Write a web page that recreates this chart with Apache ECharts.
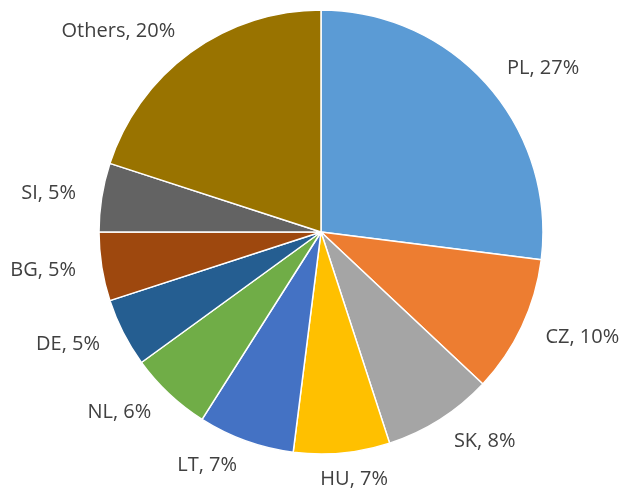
<!DOCTYPE html>
<html>
<head>
<meta charset="utf-8">
<script src="https://cdn.jsdelivr.net/npm/echarts@6/dist/echarts.min.js"></script>
<style>
  html, body { margin: 0; padding: 0; background: #fff; }
  #main { width: 619px; height: 495px; }
</style>
</head>
<body>
<div id="main"></div>
<script>
// country shares, %
var countries = ['PL', 'CZ', 'SK', 'HU', 'LT', 'NL', 'DE', 'BG', 'SI', 'Others'];
var shares = [27, 10, 8, 7, 7, 6, 5, 5, 5, 20];
var colors = ['#5B9BD5', '#ED7D31', '#A5A5A5', '#FFC000', '#4472C4',
              '#70AD47', '#255E91', '#9E480E', '#636363', '#997300'];

var pieData = [];
for (var i = 0; i < countries.length; i++) {
  pieData.push({ name: countries[i], value: shares[i], itemStyle: { color: colors[i] } });
}

var chart = echarts.init(document.getElementById('main'));
chart.setOption({
  animation: false,
  series: [{
    type: 'pie',
    center: [321, 232],
    radius: 222,
    startAngle: 90,
    clockwise: true,
    avoidLabelOverlap: false,
    data: pieData,
    itemStyle: {
      borderColor: '#ffffff',
      borderWidth: 1.5
    },
    label: {
      show: true,
      position: 'outside',
      formatter: '{b}, {c}%',
      color: '#404040',
      fontFamily: 'Open Sans',
      fontSize: 20,
      distanceToLabelLine: 0
    },
    labelLine: {
      show: false,
      length: 26,
      length2: 0
    },
    // HU label sits more centred under its slice in the original
    labelLayout: function (p) {
      if (p.dataIndex === 3) return { dx: -24 };
      return {};
    },
    emphasis: { disabled: true }
  }]
});
</script>
</body>
</html>
